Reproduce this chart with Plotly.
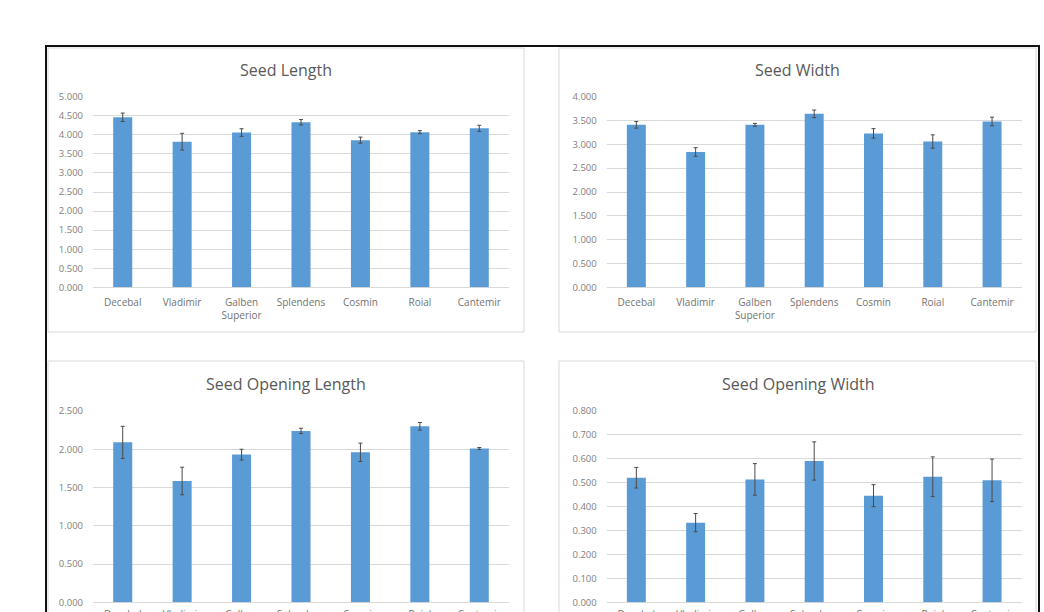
import plotly.graph_objects as go

categories = ["Decebal", "Vladimir", "Galben<br>Superior", "Splendens", "Cosmin", "Roial", "Cantemir"]

seed_length = [4.46, 3.82, 4.06, 4.33, 3.86, 4.07, 4.17]
seed_length_err = [0.11, 0.22, 0.10, 0.07, 0.08, 0.04, 0.08]

seed_width = [3.41, 2.84, 3.41, 3.64, 3.23, 3.06, 3.48]
seed_width_err = [0.07, 0.09, 0.03, 0.08, 0.10, 0.14, 0.09]

opening_length = [2.09, 1.585, 1.93, 2.24, 1.96, 2.30, 2.01]
opening_length_err = [0.21, 0.18, 0.07, 0.035, 0.12, 0.05, 0.013]

opening_width = [0.521, 0.333, 0.514, 0.591, 0.446, 0.525, 0.510]
opening_width_err = [0.043, 0.038, 0.066, 0.080, 0.046, 0.083, 0.089]

titles = ["Seed Length", "Seed Width", "Seed Opening Length", "Seed Opening Width"]
y_max = [5.0, 4.0, 2.5, 0.8]
y_step = [0.5, 0.5, 0.5, 0.1]

W, H = 1044, 612
BAR = "#5b9bd5"
GRID = "#d9d9d9"
TXT = "#595959"
FONT = "Open Sans"

series = [(seed_length, seed_length_err), (seed_width, seed_width_err),
          (opening_length, opening_length_err), (opening_width, opening_width_err)]

# plot areas in pixels: (x0, x1, ytop, ybottom)
areas = [(93, 509, 96.7, 287.3), (606.7, 1021.7, 96.7, 287.3),
         (93, 509, 411, 602.3), (606.7, 1021.7, 411, 602.3)]
# panel boxes in pixels: (x0, y0, x1, y1)
boxes = [(48, 48, 524, 332), (559, 48, 1036, 332),
         (48, 361, 524, 640), (559, 361, 1036, 640)]
title_pos = [(286, 70), (797, 70), (286, 384), (798, 384)]
x_standoff = [8, 8, 5, 5]

fig = go.Figure()
shapes = []
annotations = []

for i, ((vals, errs), (x0, x1, yt, yb)) in enumerate(zip(series, areas)):
    n = "" if i == 0 else str(i + 1)
    fig.add_trace(go.Bar(
        x=categories, y=vals,
        error_y=dict(type="data", array=errs, visible=True, color="#4a4a4a", thickness=1, width=2),
        marker=dict(color=BAR, line=dict(width=0)),
        xaxis="x" + n, yaxis="y" + n, showlegend=False,
    ))
    fig.update_layout(**{
        "xaxis" + n: dict(domain=[x0 / W, x1 / W], anchor="y" + n, showgrid=False, showline=False,
                          ticks="", tickfont=dict(family=FONT, size=10, color="#737373"),
                          ticklabelstandoff=x_standoff[i], automargin=False, fixedrange=True),
        "yaxis" + n: dict(domain=[1 - yb / H, 1 - yt / H], anchor="x" + n, range=[0, y_max[i]],
                          dtick=y_step[i], tick0=0, tickformat=".3f", showgrid=True, gridcolor=GRID,
                          gridwidth=1, zeroline=True, zerolinecolor=GRID, zerolinewidth=1,
                          showline=False, ticks="", ticklabelstandoff=9,
                          tickfont=dict(family=FONT, size=9.5, color="#808080"), automargin=False,
                          fixedrange=True),
    })
    bx0, by0, bx1, by1 = boxes[i]
    shapes.append(dict(type="rect", xref="paper", yref="paper", x0=bx0 / W, x1=bx1 / W,
                       y0=1 - by1 / H, y1=1 - by0 / H, line=dict(color=GRID, width=1), layer="below"))
    tx, ty = title_pos[i]
    annotations.append(dict(text=titles[i], xref="paper", yref="paper", x=tx / W, y=1 - ty / H,
                            xanchor="center", yanchor="middle", showarrow=False,
                            font=dict(family=FONT, size=16, color=TXT)))

# outer frame
shapes.append(dict(type="rect", xref="paper", yref="paper", x0=46 / W, x1=1039 / W,
                   y0=-0.05, y1=1 - 46 / H, line=dict(color="#111111", width=2)))

fig.update_layout(
    width=W, height=H, margin=dict(l=0, r=0, t=0, b=0),
    paper_bgcolor="white", plot_bgcolor="white",
    bargap=0.68, shapes=shapes, annotations=annotations,
    template="none", font=dict(family=FONT, color=TXT),
)

fig.write_html("out.html", config={"displayModeBar": False})
